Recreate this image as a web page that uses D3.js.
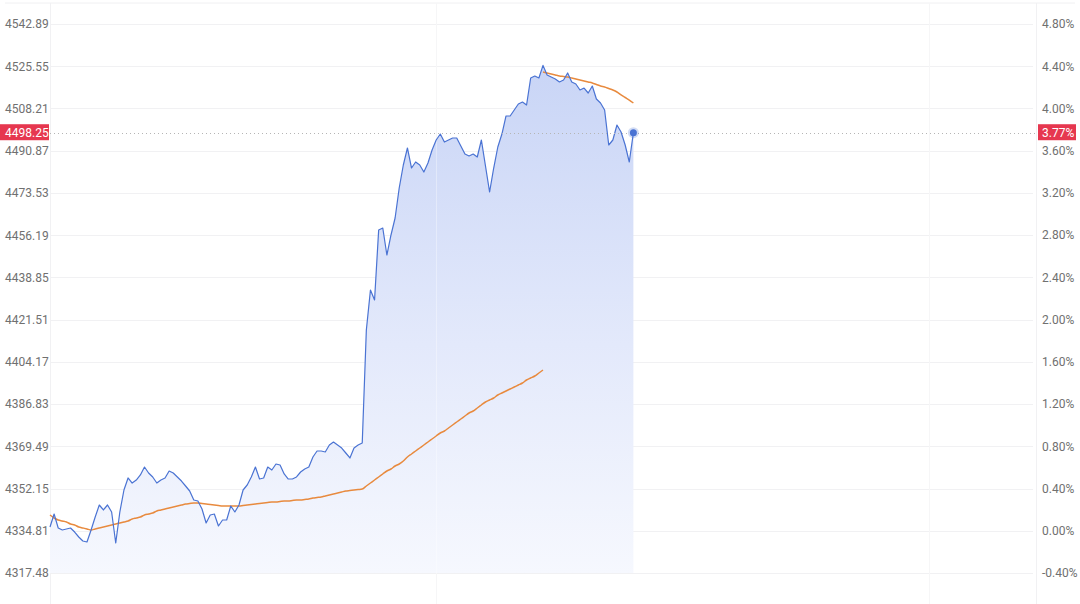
<!DOCTYPE html>
<html>
<head>
<meta charset="utf-8">
<script src="https://cdn.jsdelivr.net/npm/d3@7/dist/d3.min.js"></script>
<style>
  html, body { margin: 0; padding: 0; background: #fff; }
  svg { display: block; font-family: Roboto, "Noto Sans", Arial, sans-serif; }
</style>
</head>
<body>
<svg id="chart" width="1080" height="604"></svg>
<script>
// ---------- DATA ----------
const prevClose = 4334.81;
const lastPrice = 4498.25;
const lastPct = "3.77%";
const priceTicks = [4542.89, 4525.55, 4508.21, 4490.87, 4473.53, 4456.19, 4438.85,
                    4421.51, 4404.17, 4386.83, 4369.49, 4352.15, 4334.81, 4317.48];
const pctTicks = [4.80, 4.40, 4.00, 3.60, 3.20, 2.80, 2.40, 2.00, 1.60, 1.20, 0.80, 0.40, 0.00, -0.40];
const totalMinutes = 240;
const gridMinutes = [0, 94, 214, 240];

// price per minute (index 0..142)
const price = [
  4336.37, 4341.70, 4335.96, 4335.13, 4335.55, 4335.96, 4334.31, 4332.26, 4330.62, 4330.21,
  4335.13, 4340.47, 4345.40, 4343.35, 4345.40, 4342.53, 4329.80, 4342.53, 4351.56, 4356.49,
  4354.43, 4355.66, 4357.72, 4361.00, 4358.54, 4356.90, 4354.43, 4355.66, 4356.49, 4359.36,
  4358.54, 4356.90, 4355.25, 4353.20, 4351.15, 4347.45, 4347.04, 4343.76, 4338.01, 4341.29,
  4341.70, 4336.78, 4339.24, 4339.24, 4344.99, 4342.53, 4345.40, 4351.56, 4353.61, 4356.90,
  4361.00, 4356.07, 4356.49, 4361.00, 4359.77, 4362.23, 4361.82, 4358.13, 4356.07, 4356.07,
  4356.90, 4358.95, 4360.18, 4361.00, 4365.11, 4367.57, 4367.57, 4367.16, 4370.03, 4371.27,
  4370.03, 4368.80, 4366.75, 4364.70, 4368.80, 4370.03, 4370.86, 4417.25, 4433.67, 4429.57,
  4458.31, 4459.13, 4448.04, 4456.26, 4463.24, 4475.55, 4485.00, 4491.98, 4483.76, 4486.23,
  4485.00, 4482.12, 4485.82, 4491.16, 4495.26, 4497.72, 4494.44, 4495.26, 4496.08, 4496.08,
  4492.80, 4489.51, 4488.69, 4489.51, 4488.28, 4495.26, 4484.59, 4473.91, 4483.76, 4492.39,
  4497.72, 4505.12, 4505.12, 4507.58, 4510.04, 4510.86, 4509.63, 4520.72, 4521.54, 4520.72,
  4525.90, 4521.95, 4521.13, 4520.31, 4519.07, 4519.90, 4522.77, 4519.07, 4518.25, 4515.79,
  4516.61, 4514.56, 4517.43, 4512.09, 4510.45, 4507.58, 4493.21, 4495.26, 4501.42, 4498.55,
  4493.21, 4486.23, 4498.25
];

// orange average line, first segment (index 0..120)
const avgPre = [
  4341.29, 4340.06, 4339.24, 4338.83, 4338.42, 4337.60, 4337.19, 4336.37, 4335.96, 4335.55,
  4335.13, 4335.55, 4335.96, 4336.37, 4336.78, 4337.19, 4337.60, 4338.01, 4338.42, 4338.83,
  4339.65, 4340.06, 4340.47, 4341.29, 4341.70, 4342.11, 4342.94, 4343.35, 4343.76, 4344.17,
  4344.58, 4344.99, 4345.40, 4345.81, 4346.02, 4346.22, 4346.22, 4346.02, 4345.81, 4345.60,
  4345.40, 4345.19, 4344.99, 4344.99, 4344.99, 4344.99, 4344.99, 4345.19, 4345.40, 4345.60,
  4345.81, 4346.02, 4346.22, 4346.43, 4346.63, 4346.63, 4346.84, 4347.04, 4347.04, 4347.25,
  4347.45, 4347.45, 4347.66, 4347.86, 4348.27, 4348.48, 4348.68, 4349.09, 4349.51, 4349.92,
  4350.33, 4350.74, 4351.15, 4351.35, 4351.56, 4351.76, 4351.97, 4353.20, 4354.43, 4355.66,
  4356.90, 4358.13, 4359.36, 4360.18, 4361.41, 4362.23, 4363.46, 4365.11, 4366.34, 4367.57,
  4368.80, 4370.03, 4371.27, 4372.50, 4373.73, 4374.96, 4375.78, 4377.01, 4378.25, 4379.48,
  4380.71, 4381.94, 4383.17, 4383.99, 4385.23, 4386.46, 4387.69, 4388.51, 4389.33, 4390.56,
  4391.38, 4392.21, 4393.03, 4393.85, 4394.67, 4395.49, 4396.72, 4397.54, 4398.36, 4399.60,
  4400.83
];
// orange average line, second segment (index 120..142)
const avgPostStart = 120;
const avgPost = [
  4523.18, 4522.77, 4522.36, 4521.95, 4521.54, 4521.33, 4521.13, 4520.72, 4520.31, 4519.90,
  4519.49, 4519.07, 4518.66, 4518.05, 4517.43, 4517.02, 4516.40, 4515.79, 4514.97, 4513.74,
  4512.71, 4511.68, 4510.45
];

// ---------- CHART ----------
const svg = d3.select("#chart");
const plotL = 50, plotR = 1036, plotT = 3, plotB = 604;

const x = d3.scaleLinear().domain([0, totalMinutes]).range([plotL, plotR]);
const y = d3.scaleLinear().domain([priceTicks[priceTicks.length - 1], priceTicks[0]]).range([573, 24]);
const yPct = d3.scaleLinear().domain([pctTicks[pctTicks.length - 1], pctTicks[0]]).range([573, 24]);

const fmt2 = d3.formatLocale({decimal: ".", thousands: "", grouping: [3], currency: ["", ""], minus: "-"}).format(".2f");

// gradient
const defs = svg.append("defs");
const grad = defs.append("linearGradient")
  .attr("id", "areaGrad").attr("gradientUnits", "userSpaceOnUse")
  .attr("x1", 0).attr("x2", 0).attr("y1", y(d3.max(price))).attr("y2", y.range()[0]);
grad.append("stop").attr("offset", "0%").attr("stop-color", "#c9d5f6");
grad.append("stop").attr("offset", "55%").attr("stop-color", "#e3e9fb");
grad.append("stop").attr("offset", "100%").attr("stop-color", "#f6f8fe");

// grid
const grid = svg.append("g").attr("class", "grid");
grid.append("line").attr("x1", 5).attr("x2", 1075).attr("y1", plotT).attr("y2", plotT)
  .attr("stroke", "#f0f0f2").attr("stroke-width", 1);
grid.selectAll("line.h").data(priceTicks).enter().append("line")
  .attr("class", "h")
  .attr("x1", plotL).attr("x2", plotR - 3)
  .attr("y1", d => Math.round(y(d)) + 0.5).attr("y2", d => Math.round(y(d)) + 0.5)
  .attr("stroke", "#f1f1f3").attr("stroke-width", 1);
grid.selectAll("line.v").data(gridMinutes).enter().append("line")
  .attr("class", "v")
  .attr("x1", d => Math.round(x(d)) + 0.5).attr("x2", d => Math.round(x(d)) + 0.5)
  .attr("y1", plotT).attr("y2", plotB)
  .attr("stroke", "#f1f1f3").attr("stroke-width", 1);

// area
const area = d3.area()
  .x((d, i) => x(i))
  .y0(y.range()[0])
  .y1(d => y(d));
svg.append("path").datum(price)
  .attr("d", area)
  .attr("fill", "url(#areaGrad)");

// vertical grid faintly visible over area
svg.append("g").selectAll("line").data(gridMinutes.slice(1, 3)).enter().append("line")
  .attr("x1", d => Math.round(x(d)) + 0.5).attr("x2", d => Math.round(x(d)) + 0.5)
  .attr("y1", plotT).attr("y2", plotB)
  .attr("stroke", "#ffffff").attr("stroke-opacity", 0.35).attr("stroke-width", 1);

// orange avg lines
const avgLine = d3.line().x(d => x(d[0])).y(d => y(d[1])).curve(d3.curveMonotoneX);
svg.append("path").datum(avgPre.map((v, i) => [i, v]))
  .attr("d", avgLine).attr("fill", "none")
  .attr("stroke", "#e88a3e").attr("stroke-width", 1.5);
svg.append("path").datum(avgPost.map((v, i) => [avgPostStart + i, v]))
  .attr("d", avgLine).attr("fill", "none")
  .attr("stroke", "#e88a3e").attr("stroke-width", 1.5);

// price line
const lineGen = d3.line().x(d => x(d[0])).y(d => y(d[1]));
svg.append("path").datum(price.map((v, i) => [i, v]))
  .attr("d", lineGen).attr("fill", "none")
  .attr("stroke", "#4a73d3").attr("stroke-width", 1.2)
  .attr("stroke-linejoin", "round");

// last-price dotted line
const yLast = y(lastPrice);
svg.append("line")
  .attr("x1", plotL).attr("x2", 1037)
  .attr("y1", Math.round(yLast) + 0.5).attr("y2", Math.round(yLast) + 0.5)
  .attr("stroke", "#b5b5b5").attr("stroke-width", 1)
  .attr("stroke-dasharray", "1,3");

// endpoint dot
const lastI = price.length - 1;
svg.append("circle").attr("cx", x(lastI)).attr("cy", y(price[lastI])).attr("r", 5.5)
  .attr("fill", "#4a73d3").attr("fill-opacity", 0.25);
svg.append("circle").attr("cx", x(lastI)).attr("cy", y(price[lastI])).attr("r", 3.5)
  .attr("fill", "#4a73d3");

// axes (labels only)
const leftAxis = d3.axisRight(y).tickValues(priceTicks).tickSize(0).tickPadding(0)
  .tickFormat(fmt2);
const gL = svg.append("g").attr("transform", "translate(5,0)").call(leftAxis);
const rightAxis = d3.axisRight(yPct).tickValues(pctTicks).tickSize(0).tickPadding(0)
  .tickFormat(d => fmt2(d) + "%");
const gR = svg.append("g").attr("transform", "translate(1042,0)").call(rightAxis);
[gL, gR].forEach(g => {
  g.select(".domain").remove();
  g.selectAll("text").attr("fill", "#707070").style("font-size", "12px")
    .style("font-family", "Roboto, 'Noto Sans', Arial, sans-serif");
});

// red last-price labels
const boxH = 16;
const lb = svg.append("g");
lb.append("rect").attr("x", 0).attr("y", yLast - boxH / 2 - 0.5).attr("width", 49).attr("height", boxH)
  .attr("fill", "#e6374f");
lb.append("text").attr("x", 5).attr("y", yLast).attr("dy", "0.35em")
  .attr("fill", "#fff").style("font-size", "12px").text(fmt2(lastPrice));
const rb = svg.append("g");
rb.append("rect").attr("x", 1038).attr("y", yLast - boxH / 2 - 0.5).attr("width", 38).attr("height", boxH)
  .attr("fill", "#e6374f");
rb.append("text").attr("x", 1042).attr("y", yLast).attr("dy", "0.35em")
  .attr("fill", "#fff").style("font-size", "12px").text(lastPct);
</script>
</body>
</html>
